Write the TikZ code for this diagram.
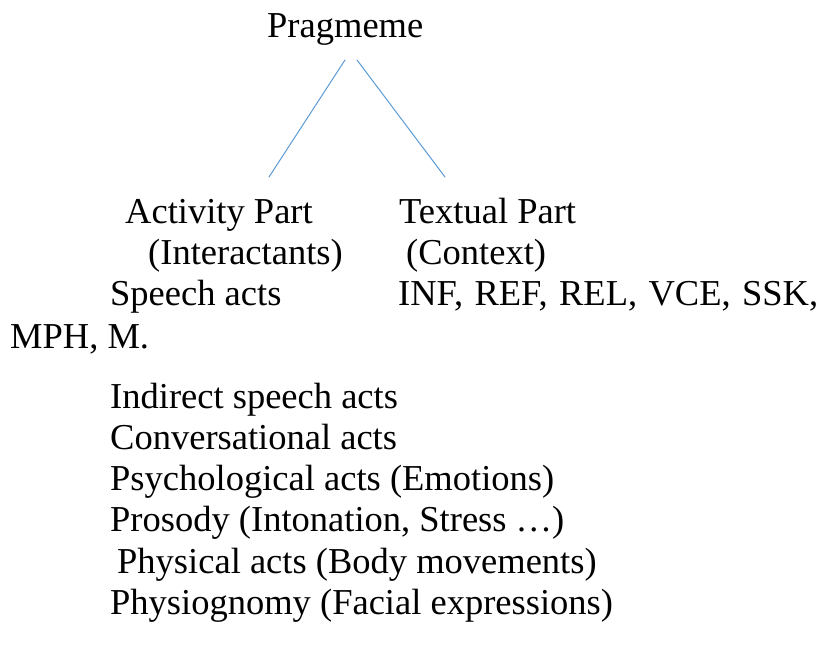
\documentclass[tikz,border=0pt]{standalone}
\usepackage{fontspec}
\setmainfont{Liberation Serif}
\definecolor{linkblue}{RGB}{91,155,213}
\begin{document}
\begin{tikzpicture}[x=1pt,y=-1pt,line cap=round,
	every node/.style={anchor=base west,inner sep=0pt,font=\fontsize{36.5}{40}\selectfont},
	branch/.style={color=linkblue,line width=1pt}]
\useasboundingbox (0,0) rectangle (823,648);
	\node (prag) at (267,37) {Pragmeme};
\coordinate (lt) at (345,60);
\coordinate (lb) at (269,177);
\coordinate (rt) at (357,60);
\coordinate (rb) at (445,177);
	\draw[branch] (lt) -- (lb);
	\draw[branch] (rt) -- (rb);
	\node (act) at (125,223) {Activity Part};
	\node (txt) at (399,223) {Textual Part};
	\node (inter) at (148,264) {(Interactants)};
	\node (ctx) at (406,264) {(Context)};
	\node (speech) at (110,305) {Speech acts};
	\node (codes) at (398,305) {\makebox[420pt][s]{INF, REF, REL, VCE, SSK,}};
	\node (mph) at (10,348) {MPH, M.};
	\node (ind) at (110,408) {Indirect speech acts};
	\node (conv) at (110,449) {Conversational acts};
	\node (psy) at (110,490) {Psychological acts (Emotions)};
	\node (pros) at (110,531) {Prosody (Intonation, Stress \dots)};
	\node (phys) at (117,573) {Physical acts (Body movements)};
	\node (face) at (110,614) {Physiognomy (Facial expressions)};
\end{tikzpicture}
\end{document}
